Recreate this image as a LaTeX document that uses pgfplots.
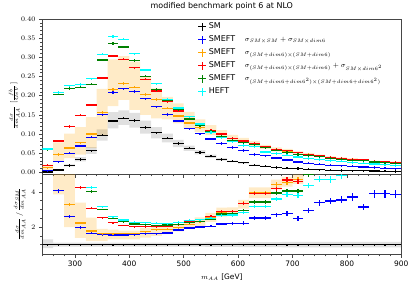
\documentclass[border=0pt]{standalone}
\usepackage{fontspec}
\setmainfont{DejaVu Sans}
\usepackage{pgfplots}
\usepackage{pgfplotstable}
\usepgfplotslibrary{fillbetween}
\pgfplotsset{compat=1.18}
\definecolor{mgreen}{RGB}{0,128,0}
\definecolor{morange}{RGB}{255,165,0}
\definecolor{mcyan}{RGB}{0,255,255}
\definecolor{mblue}{RGB}{0,0,255}
\definecolor{mred}{RGB}{255,0,0}
\definecolor{frame}{RGB}{70,70,70}

\pgfplotstableread{
x   sm     bl     or     re     gr     cy
250 0.001  0.004  0.012  0.019  0.059  0.061
270 0.006  0.028  0.047  0.082  0.204  0.208
290 0.018  0.050  0.0635 0.120  0.219  0.226
310 0.034  0.069  0.077  0.149  0.222  0.229
330 0.0565 0.092  0.100  0.1755 0.230  0.244
350 0.0966 0.150  0.1565 0.246  0.293  0.308
370 0.134  0.208  0.2165 0.3035 0.336  0.354
390 0.141  0.218  0.232  0.295  0.327  0.347
410 0.135  0.211  0.222  0.273  0.292  0.309
430 0.117  0.192  0.203  0.243  0.251  0.267
450 0.103  0.171  0.190  0.212  0.216  0.231
470 0.089  0.151  0.167  0.184  0.189  0.191
490 0.0755 0.134  0.147  0.160  0.163  0.168
510 0.063  0.114  0.129  0.141  0.139  0.145
530 0.052  0.101  0.117  0.127  0.122  0.126
550 0.042  0.087  0.107  0.110  0.107  0.104
570 0.034  0.075  0.098  0.100  0.094  0.090
590 0.029  0.065  0.088  0.089  0.083  0.080
610 0.025  0.057  0.082  0.082  0.077  0.070
630 0.019  0.047  0.075  0.076  0.072  0.067
650 0.016  0.043  0.066  0.067  0.064  0.053
670 0.013  0.0375 0.059  0.060  0.058  0.049
690 0.011  0.0323 0.056  0.0566 0.052  0.045
710 0.0098 0.027  0.051  0.051  0.047  0.040
730 0.0080 0.0236 0.047  0.046  0.044  0.036
750 0.0066 0.021  0.043  0.043  0.041  0.034
770 0.0058 0.019  0.039  0.039  0.037  0.031
790 0.0050 0.0175 0.036  0.036  0.034  0.029
810 0.0044 0.016  0.034  0.034  0.032  0.026
830 0.0040 0.014  0.032  0.0323 0.030  0.024
850 0.0034 0.0125 0.029  0.029  0.027  0.022
870 0.0030 0.011  0.027  0.027  0.025  0.020
890 0.0027 0.0097 0.026  0.026  0.024  0.018
}\topdata

\pgfplotstableread{
x   sm bl   or   re   gr   cy   e
250 1  nan  nan  nan  nan  nan  0.04
270 1  4.07 nan  nan  nan  nan  0.12
290 1  2.61 3.29 nan  nan  nan  0.10
310 1  1.98 2.23 4.25 nan  nan  0.08
330 1  1.64 1.77 3.06 4.02 4.25 0.06
350 1  1.56 1.62 2.53 3.00 3.16 0.04
370 1  1.55 1.62 2.25 2.49 2.59 0.04
390 1  1.55 1.64 2.09 2.30 2.40 0.04
410 1  1.56 1.64 2.01 2.17 2.28 0.04
430 1  1.62 1.74 2.03 2.14 2.25 0.04
450 1  1.63 1.84 2.03 2.10 2.22 0.04
470 1  1.66 1.87 2.06 2.12 2.20 0.05
490 1  1.83 1.97 2.13 2.16 2.28 0.05
510 1  1.95 2.15 2.30 2.25 2.38 0.06
530 1  2.00 2.30 2.42 2.32 2.42 0.06
550 1  2.05 2.55 2.62 2.45 2.50 0.07
570 1  2.17 2.85 2.89 2.74 2.64 0.08
590 1  2.19 2.88 2.89 2.78 2.68 0.08
610 1  2.22 3.36 3.33 2.95 2.84 0.10
630 1  2.51 3.94 3.90 3.43 3.18 0.10
650 1  2.51 3.94 3.90 3.43 3.18 0.10
670 1  2.70 4.42 4.17 3.94 3.60 0.12
690 1  2.79 4.55 4.68 4.05 3.85 0.14
710 1  2.50 4.70 4.60 4.05 3.78 0.14
730 1  2.95 nan  nan  4.98 4.36 0.15
750 1  3.38 nan  nan  nan  4.72 0.17
770 1  3.48 nan  nan  nan  4.70 0.18
790 1  3.54 nan  nan  nan  4.95 0.20
810 1  3.71 nan  nan  nan  nan  0.22
830 1  3.14 nan  nan  nan  nan  0.18
850 1  3.90 nan  nan  nan  nan  0.22
870 1  3.90 nan  nan  nan  nan  0.22
890 1  3.86 nan  nan  nan  nan  0.22
}\ratdata

\pgfplotstableread{
xl  orlo   orhi   smlo   smhi   rolo rohi rslo rshi
240 0.006  0.020  0.0008 0.0013 6.0  6.0  0.80 1.30
260 0.030  0.078  0.005  0.007  3.86 5.50 0.88 1.12
280 0.037  0.101  0.0155 0.021  2.00 5.50 0.88 1.12
300 0.046  0.118  0.029  0.040  1.39 3.39 0.88 1.12
320 0.063  0.144  0.048  0.066  1.20 2.53 0.88 1.12
340 0.098  0.218  0.083  0.112  1.20 1.90 0.88 1.12
360 0.173  0.295  0.115  0.157  1.30 1.85 0.88 1.12
380 0.189  0.303  0.124  0.162  1.30 1.80 0.88 1.12
400 0.163  0.289  0.117  0.155  1.30 1.80 0.88 1.12
420 0.150  0.250  0.101  0.135  1.40 1.95 0.88 1.12
440 0.141  0.219  0.089  0.118  1.50 2.00 0.88 1.12
460 0.138  0.197  0.078  0.101  1.60 2.05 0.88 1.12
480 0.128  0.180  0.066  0.085  1.75 2.15 0.88 1.12
500 0.115  0.158  0.056  0.070  1.90 2.40 0.88 1.12
520 0.105  0.138  0.047  0.058  2.05 2.55 0.88 1.12
540 0.097  0.123  0.038  0.046  2.30 2.80 0.87 1.13
560 0.090  0.110  0.031  0.037  2.60 3.10 0.87 1.13
580 0.081  0.098  0.027  0.031  2.62 3.12 0.87 1.13
600 0.076  0.090  0.023  0.027  3.05 3.55 0.86 1.14
620 0.069  0.082  0.0175 0.0205 3.65 4.25 0.86 1.14
640 0.061  0.072  0.0148 0.0172 3.65 4.25 0.86 1.14
660 0.055  0.065  0.0121 0.0139 4.15 4.70 0.86 1.14
680 0.052  0.061  0.0102 0.0118 4.30 4.85 0.85 1.15
700 0.047  0.055  0.0091 0.0105 4.45 5.00 0.85 1.15
720 0.044  0.051  0.0074 0.0086 5.50 5.50 0.85 1.15
740 0.040  0.046  0.0061 0.0071 5.50 5.50 0.85 1.15
760 0.036  0.042  0.0054 0.0062 5.50 5.50 0.85 1.15
780 0.034  0.039  0.0046 0.0054 5.50 5.50 0.85 1.15
800 0.032  0.037  0.0041 0.0047 5.50 5.50 0.85 1.15
820 0.030  0.034  0.0037 0.0043 5.50 5.50 0.85 1.15
840 0.027  0.031  0.0032 0.0036 5.50 5.50 0.85 1.15
860 0.025  0.029  0.0028 0.0032 5.50 5.50 0.85 1.15
880 0.024  0.028  0.0025 0.0029 5.50 5.50 0.85 1.15
900 0.024  0.028  0.0025 0.0029 5.50 5.50 0.85 1.15
}\bands

\pgfplotsset{
  hist/.style={only marks, mark=*, mark size=0pt,
    mark options={draw opacity=0, fill opacity=0}, forget plot,
    error bars/x dir=both, error bars/x fixed=10, error bars/y dir=both,
    error bars/error mark=none,
    error bars/error bar style={line width=1.2pt, draw opacity=1, #1}},
  crossleg/.style={legend image code/.code={
    \draw[line width=1.1pt,##1] (0cm,0cm)--(0.28cm,0cm) (0.14cm,-0.14cm)--(0.14cm,0.14cm);}},
  common/.style={
    scale only axis, width=359bp,
    xmin=240, xmax=900,
    xtick={300,400,500,600,700,800,900},
    minor xtick={240,260,...,900},
    tick pos=left, tick align=outside,
    major tick length=3.5bp, minor tick length=2bp,
    axis line style={frame, line width=0.8pt},
    every tick/.style={frame, line width=0.5pt},
    tick label style={font=\fontsize{7.5}{9}\selectfont},
    label style={font=\fontsize{7.5}{9}\selectfont},
  },
}

\newcommand{\SMEFT}{\makebox[36bp][l]{SMEFT}}
\newcommand{\fs}{\fontsize{6.8}{7.5}\selectfont}

\begin{document}
\begin{tikzpicture}
\begin{axis}[common, name=main, at={(0,0)}, anchor=north west,
  height=155.3bp,
  ymin=-0.005, ymax=0.40,
  ytick={0,0.05,0.10,0.15,0.20,0.25,0.30,0.35,0.40},
  minor y tick num=4,
  scaled y ticks=false,
  yticklabel style={/pgf/number format/.cd, fixed, fixed zerofill, precision=2},
  xticklabels={},
  title={modified benchmark point 6 at NLO},
  title style={font=\fontsize{8}{9.6}\selectfont, yshift=-1bp},
  ylabel={$\frac{d\sigma}{dm_{AA}}\ [\frac{fb}{GeV}]$},
  ylabel style={at={(axis description cs:-0.078,0.44)}, anchor=center},
  legend cell align=left,
  legend style={at={(axis description cs:0.43,0.995)}, anchor=north west,
    draw=none, fill=none, font=\fontsize{8}{9.6}\selectfont,
    row sep=1.6bp, inner sep=1bp},
]
\addplot[draw=none, const plot, name path=oh, forget plot] table[x=xl,y=orhi]{\bands};
\addplot[draw=none, const plot, name path=ol, forget plot] table[x=xl,y=orlo]{\bands};
\addplot[fill=morange, fill opacity=0.22, draw=none, forget plot] fill between[of=oh and ol];
\addplot[draw=none, const plot, name path=sh, forget plot] table[x=xl,y=smhi]{\bands};
\addplot[draw=none, const plot, name path=sl, forget plot] table[x=xl,y=smlo]{\bands};
\addplot[fill=black, fill opacity=0.12, draw=none, forget plot] fill between[of=sh and sl];

\addplot[hist=black, error bars/y fixed=0.003] table[x=x,y=sm]{\topdata};
\addplot[hist=mblue, error bars/y fixed=0.003] table[x=x,y=bl]{\topdata};
\addplot[hist=morange, error bars/y fixed=0.003] table[x=x,y=or]{\topdata};
\addplot[hist=mred, error bars/y fixed=0.003] table[x=x,y=re]{\topdata};
\addplot[hist=mgreen, error bars/y fixed=0.003] table[x=x,y=gr]{\topdata};
\addplot[hist=mcyan, error bars/y fixed=0.003] table[x=x,y=cy]{\topdata};

\addlegendimage{crossleg, black}
\addlegendentry{SM}
\addlegendimage{crossleg, mblue}
\addlegendentry{\SMEFT{\fs$\sigma_{SM\times SM}+\sigma_{SM\times dim6}$}}
\addlegendimage{crossleg, morange}
\addlegendentry{\SMEFT{\fs$\sigma_{(SM+dim6)\times(SM+dim6)}$}}
\addlegendimage{crossleg, mred}
\addlegendentry{\SMEFT{\fs$\sigma_{(SM+dim6)\times(SM+dim6)}+\sigma_{SM\times dim6^2}$}}
\addlegendimage{crossleg, mgreen}
\addlegendentry{\SMEFT{\fs$\sigma_{(SM+dim6+dim6^2)\times(SM+dim6+dim6^2)}$}}
\addlegendimage{crossleg, mcyan}
\addlegendentry{HEFT}
\end{axis}

\begin{axis}[common, name=ratio, at={([yshift=-2.2bp]main.south west)}, anchor=north west,
  height=80bp,
  ymin=0.45, ymax=5,
  ytick={2,4},
  minor ytick={1,1.5,2.5,3,3.5,4.5},
  xticklabels={300,400,500,600,700,800,900},
  xlabel={$m_{AA}$ [GeV]},
  xlabel style={at={(axis description cs:0.5,-0.2)}, anchor=north},
  ylabel={$\frac{d\sigma}{dm_{AA}}\,/\,\frac{d\sigma_{SM}}{dm_{AA}}$},
  ylabel style={at={(axis description cs:-0.063,0.5)}, anchor=center},
]
\addplot[draw=none, const plot, name path=roh, forget plot] table[x=xl,y=rohi]{\bands};
\addplot[draw=none, const plot, name path=rol, forget plot] table[x=xl,y=rolo]{\bands};
\addplot[fill=morange, fill opacity=0.22, draw=none, forget plot] fill between[of=roh and rol];
\addplot[draw=none, const plot, name path=rsh, forget plot] table[x=xl,y=rshi]{\bands};
\addplot[draw=none, const plot, name path=rsl, forget plot] table[x=xl,y=rslo]{\bands};
\addplot[fill=black, fill opacity=0.12, draw=none, forget plot] fill between[of=rsh and rsl];

\addplot[hist=black, error bars/y fixed=0.04] table[x=x,y=sm]{\ratdata};
\addplot[hist=mblue, error bars/y explicit] table[x=x,y=bl,y error=e]{\ratdata};
\addplot[hist=morange, error bars/y explicit] table[x=x,y=or,y error=e]{\ratdata};
\addplot[hist=mred, error bars/y explicit] table[x=x,y=re,y error=e]{\ratdata};
\addplot[hist=mgreen, error bars/y explicit] table[x=x,y=gr,y error=e]{\ratdata};
\addplot[hist=mcyan, error bars/y explicit] table[x=x,y=cy,y error=e]{\ratdata};
\end{axis}
\pgfresetboundingbox
\path[use as bounding box] (-42.3bp,19bp) rectangle (371.7bp,-269bp);
\end{tikzpicture}
\end{document}
